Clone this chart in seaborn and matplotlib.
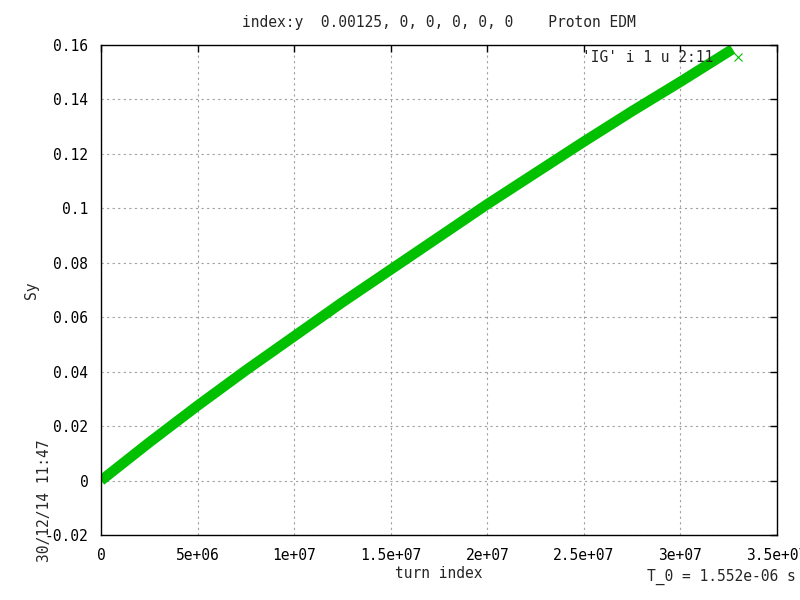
import matplotlib
matplotlib.use("Agg")
import matplotlib.pyplot as plt
import seaborn as sns
import pandas as pd
from matplotlib.lines import Line2D

turns = [0, 2.5e6, 5e6, 7.5e6, 1e7, 1.25e7, 1.5e7, 1.75e7, 2e7, 2.25e7, 2.5e7, 2.75e7, 3e7, 3.27e7]
sy = [0.0, 0.014, 0.0275, 0.0405, 0.053, 0.0655, 0.0775, 0.0895, 0.1015, 0.113, 0.1245, 0.1357, 0.1465, 0.1585]
xticks = [0, 5e6, 1e7, 1.5e7, 2e7, 2.5e7, 3e7, 3.5e7]
xticklabels = ["0", "5e+06", "1e+07", "1.5e+07", "2e+07", "2.5e+07", "3e+07", "3.5e+07"]
yticks = [-0.02, 0, 0.02, 0.04, 0.06, 0.08, 0.1, 0.12, 0.14, 0.16]
yticklabels = ["-0.02", "0", "0.02", "0.04", "0.06", "0.08", "0.1", "0.12", "0.14", "0.16"]

sns.set_style("white")
plt.rcParams['font.family'] = ['DejaVu Sans Mono']
fs = 10.5
plt.rcParams['font.size'] = fs

df = pd.DataFrame({"turn": turns, "sy": sy})
green = "#00c000"

fig = plt.figure(figsize=(8, 6), dpi=100)
ax = fig.add_axes([101/800, 1-535/600, 676/800, 490/600])

sns.lineplot(data=df, x="turn", y="sy", ax=ax, color=green, linewidth=7.5,
             solid_capstyle="butt", legend=False)

ax.set_xlim(0, 3.5e7)
ax.set_ylim(-0.02, 0.16)
ax.set_xticks(xticks)
ax.set_xticklabels(xticklabels)
ax.set_yticks(yticks)
ax.set_yticklabels(yticklabels)
ax.tick_params(direction="in", length=5, width=1, top=True, right=True,
               colors="black", labelsize=fs, pad=9)
for s in ax.spines.values():
    s.set_visible(True)
    s.set_color("black")
    s.set_linewidth(1)
ax.grid(True, color="#a0a0a0", linestyle=(0, (2, 3)), linewidth=0.8)

ax.set_xlabel("turn index")
ax.xaxis.set_label_coords(0.5, -(574 - 535) / 490)
ax.xaxis.label.set_va("center")
ax.set_ylabel("Sy")
ax.yaxis.set_label_coords((32 - 101) / 676, 0.5)
ax.yaxis.label.set_va("center")
fig.text(439/800, 1-22/600, "index:y  0.00125, 0, 0, 0, 0, 0    Proton EDM",
         ha="center", va="center", fontsize=fs)
fig.text(45/800, 1-501/600, "30/12/14 11:47", rotation=90, ha="center",
         va="center", fontsize=fs)
fig.text(796/800, 1-577/600, "T_0 = 1.552e-06 s", ha="right", va="center",
         fontsize=fs)

handle = Line2D([], [], color=green, marker="x", linestyle="none",
                markersize=6, markeredgewidth=0.8)
ax.legend([handle], ["'IG' i 1 u 2:11"], loc="upper right", markerfirst=False,
          frameon=False, handletextpad=1.1, handlelength=1.2,
          bbox_to_anchor=((754 - 101) / 676, 1.0 + 2 / 490), borderaxespad=0.2,
          borderpad=0.3, fontsize=fs)

fig.savefig("out.png", dpi=100)
